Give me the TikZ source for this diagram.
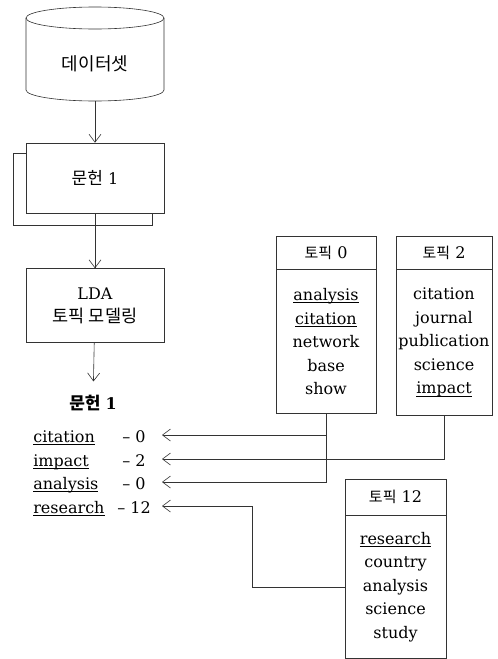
\documentclass[tikz,border=0pt]{standalone}
\usepackage{fontspec}
\setmainfont{DejaVu Serif}
\newfontfamily\krfont{Noto Sans CJK KR}
\usetikzlibrary{arrows.meta, positioning}

\newcommand{\uword}[1]{\leavevmode\setbox0\hbox{#1}\rlap{\vrule height -1.8pt depth 2.5pt width \wd0}\box0}

\tikzset{
    every path/.style={line width=0.6pt},
    box/.style={draw=black!80, fill=white, minimum width=138pt, align=center},
    head/.style={draw=black!80, inner xsep=0pt},
    body/.style={draw=black!80, inner xsep=0pt, align=center, font=\fontsize{16}{23.5}\selectfont},
    word/.style={anchor=base west, inner sep=0pt},
    flow/.style={draw=black!80, -{Straight Barb[length=8pt, width=12pt]}},
}

\begin{document}
\begin{tikzpicture}[x=1pt, y=-1pt, font=\fontsize{16}{23}\selectfont]

    \useasboundingbox (0,0) rectangle (498,659);

    % Dataset cylinder
    \draw[black!80, fill=white] (26,18) -- (26,90)
        arc[start angle=180, end angle=360, x radius=69pt, y radius=11pt] -- (164,18);
    \draw[black!80] (95,18) ellipse [x radius=69pt, y radius=11pt];
    \node[font=\krfont\fontsize{18}{20}\selectfont] (data) at (95,64) {데이터셋};
    \coordinate (data-bot) at (95,101);

    % Document (stacked)
    \node[box, minimum height=70pt] (doc) at (95,178) {{\krfont\fontsize{17}{20}\selectfont 문헌} 1};
    \draw[black!80] ([yshift=-11pt]doc.north west) -- ++(-12,0) -- ++(0,72) -- ++(139,0) -- ++(0,-13);

    % LDA
    \node[box, minimum height=74pt, below=55pt of doc] (lda) {LDA\\{\krfont\fontsize{17.5}{20}\selectfont 토픽 모델링}};

    % Result for document 1
    \node (res) at (93,403) {{\krfont\bfseries\fontsize{17}{20}\selectfont 문헌} \textbf{1}};

    \draw[flow] (data-bot) -- (doc);
    \draw[flow] (doc) -- (lda);
    \draw[flow, shorten >=10pt] (lda) -- (res);

    % Keyword rows
    \node[word] (w-cit) at (33,442) {\uword{citation}};
    \node[word] (n-cit) at (122,442) {-- 0};
    \node[word] (w-imp) at (33,466) {\uword{impact}};
    \node[word] (n-imp) at (122,466) {-- 2};
    \node[word] (w-ana) at (33,489) {\uword{analysis}};
    \node[word] (n-ana) at (122,489) {-- 0};
    \node[word] (w-res) at (33,513) {\uword{research}};
    \node[word] (n-res) at (117,513) {-- 12};

    \coordinate (in-cit) at (162,435);
    \coordinate (in-imp) at (162,459);
    \coordinate (in-ana) at (162,482);
    \coordinate (in-res) at (162,506);

    % Topic boxes
    \node[head, minimum width=100pt, minimum height=33pt] (h0) at (326,252.5) {{\krfont\fontsize{15}{16}\selectfont 토픽} 0};
    \node[body, minimum width=100pt, minimum height=144pt, below=0pt of h0] (b0)
        {\uword{analysis}\\\uword{citation}\\network\\base\\show};

    \node[head, minimum width=96pt, minimum height=33pt] (h2) at (444,252.5) {{\krfont\fontsize{15}{16}\selectfont 토픽} 2};
    \node[body, minimum width=96pt, minimum height=146pt, below=0pt of h2] (b2)
        {citation\\journal\\publication\\science\\\uword{impact}};

    \node[head, minimum width=101pt, minimum height=36pt] (h12) at (395.5,497) {{\krfont\fontsize{15}{16}\selectfont 토픽} 12};
    \node[body, minimum width=101pt, minimum height=143pt, below=0pt of h12] (b12)
        {\uword{research}\\country\\analysis\\science\\study};

    % Links from topics to keywords
    \draw[flow] (b0.south) |- (in-ana);
    \draw[flow] (b0.south |- in-cit) -- (in-cit);
    \draw[flow] (b2.south) |- (in-imp);
    \draw[flow] (b12.west) -- ++(-92,0) |- (in-res);

\end{tikzpicture}
\end{document}
